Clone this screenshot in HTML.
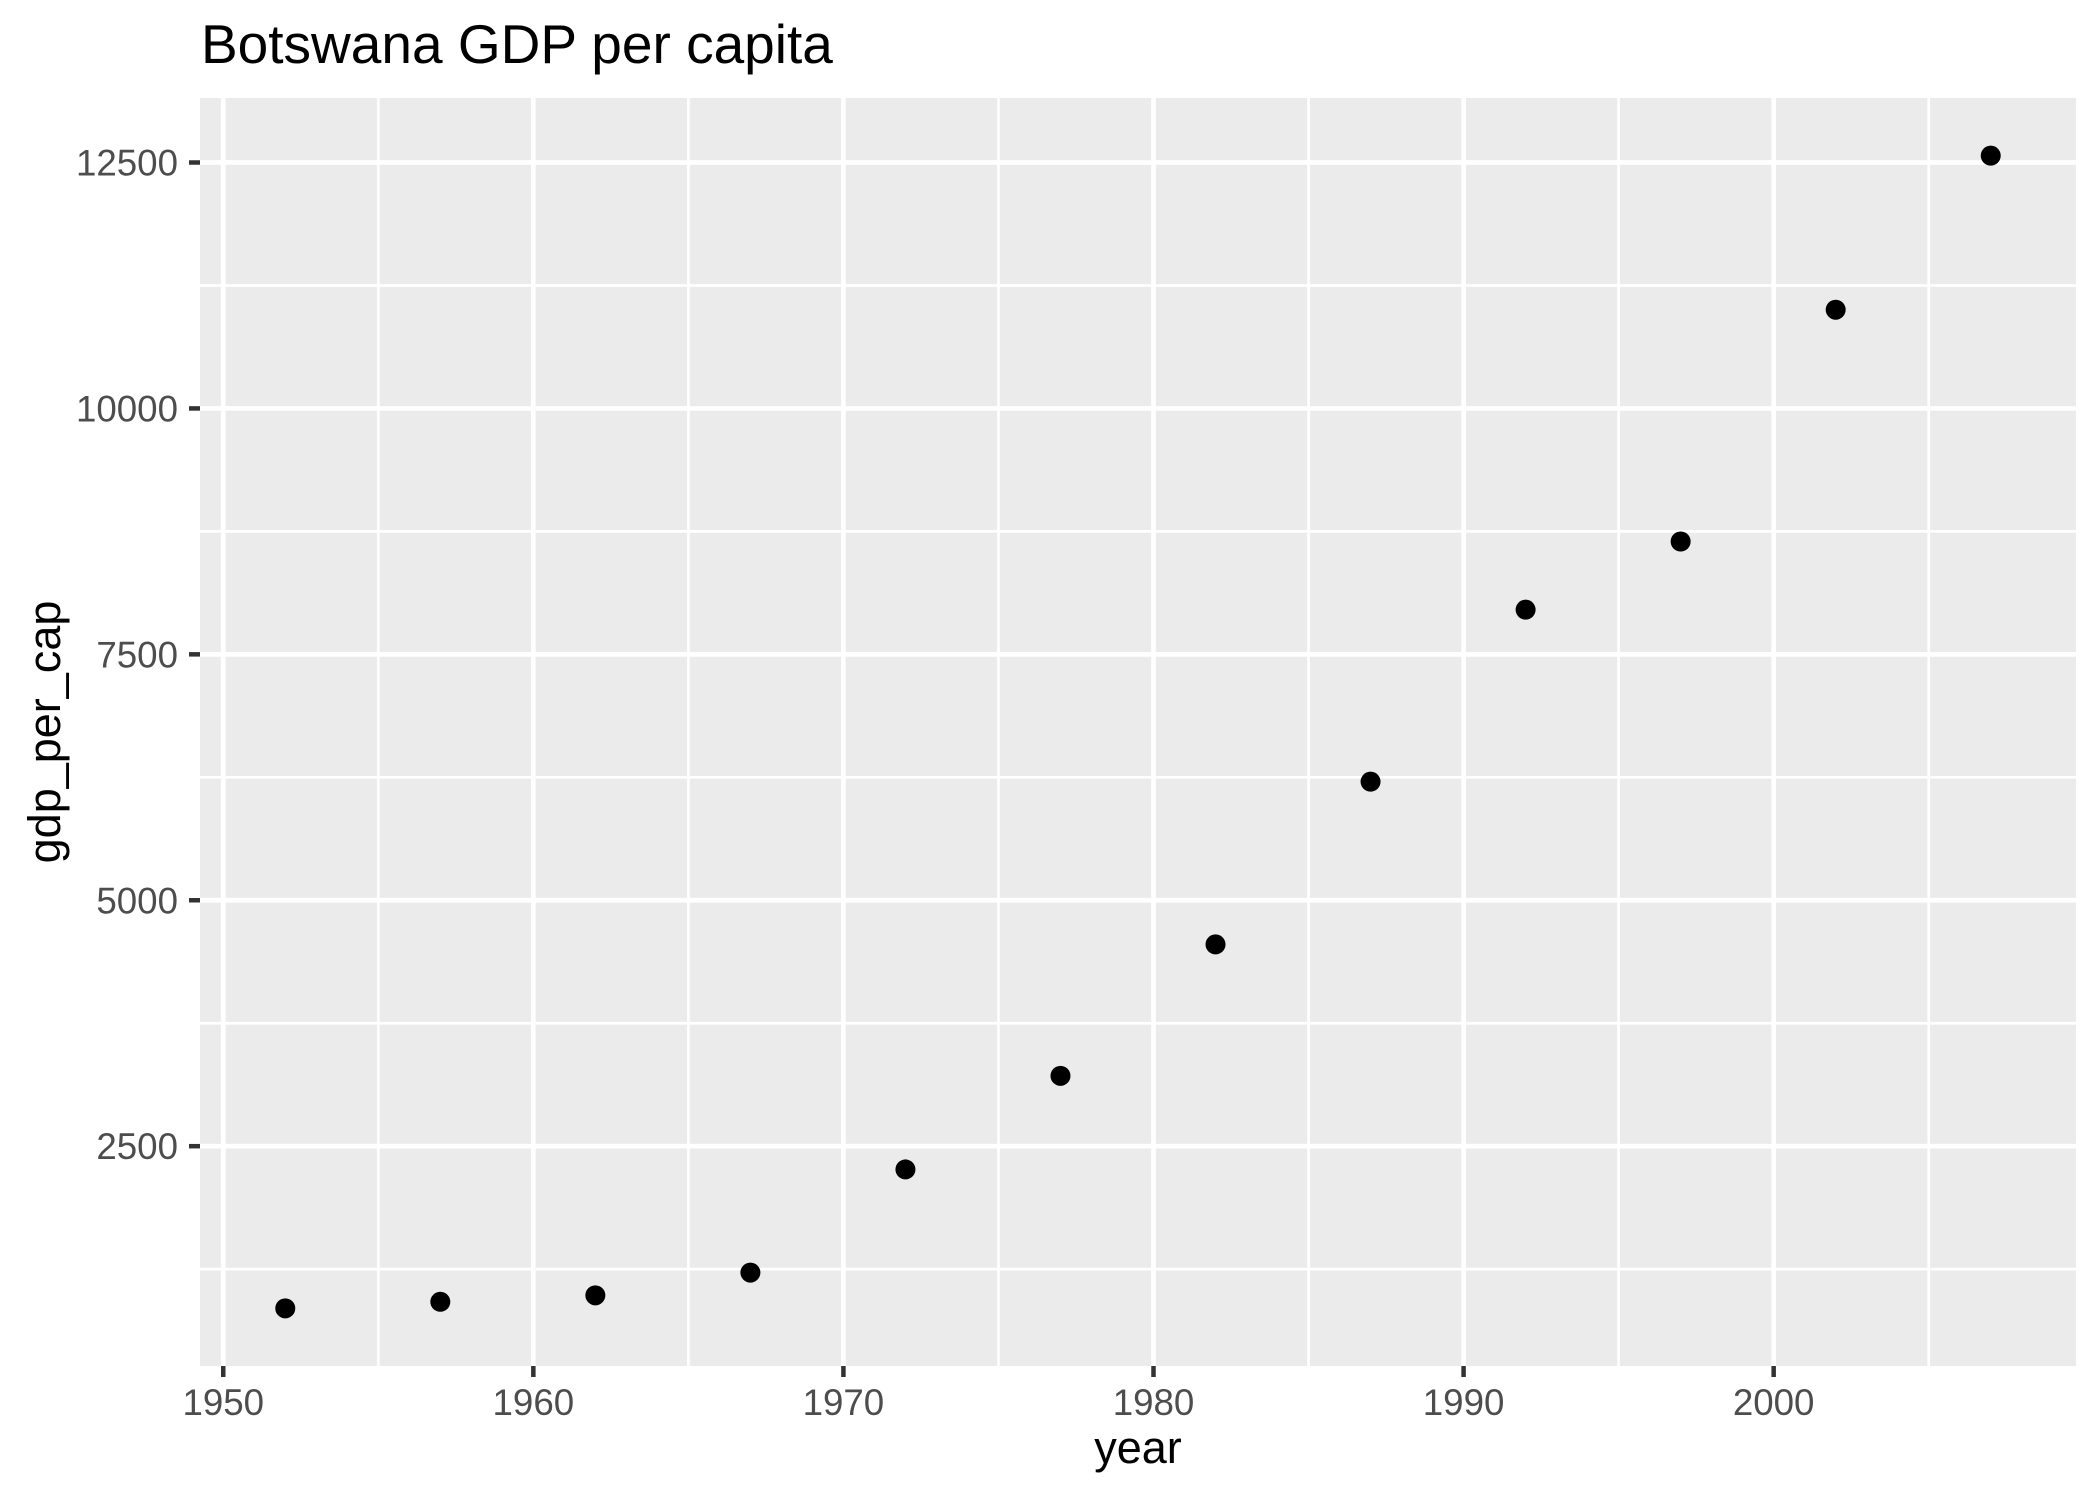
<!DOCTYPE html>
<html><head><meta charset="utf-8"><style>
html,body{margin:0;padding:0;background:#fff;}
svg{display:block;font-family:"Liberation Sans",Arial,sans-serif;}
</style></head><body>
<svg id="chart" width="2099" height="1499" viewBox="0 0 2099 1499">
<rect x="0" y="0" width="2099" height="1499" fill="#fff"/>
<text x="201" y="63" font-size="55" fill="#000">Botswana GDP per capita</text>
<rect x="200" y="98" width="1876" height="1268" fill="#EBEBEB"/>
<g id="grid"></g>
<g id="points"></g>
<g id="axes"></g>
<text x="1138" y="1463" font-size="45" text-anchor="middle" fill="#000">year</text>
<text transform="translate(60,732) rotate(-90)" font-size="45" text-anchor="middle" fill="#000">gdp_per_cap</text>
</svg>
<script>
const years = [1952,1957,1962,1967,1972,1977,1982,1987,1992,1997,2002,2007];
const gdpPerCap = [851.24,918.23,983.65,1214.71,2263.61,3214.86,4551.14,6205.88,7954.11,8647.14,11003.61,12569.85];
const xTicks = [1950,1960,1970,1980,1990,2000];
const xMinor = [1955,1965,1975,1985,1995,2005];
const yTicks = [2500,5000,7500,10000,12500];
const yMinor = [1250,3750,6250,8750,11250];

const NS = "http://www.w3.org/2000/svg";
const L = 200, R = 2076, T = 98, B = 1366;
const xmin0 = Math.min(...years), xmax0 = Math.max(...years);
const ymin0 = Math.min(...gdpPerCap), ymax0 = Math.max(...gdpPerCap);
const xpad = (xmax0 - xmin0) * 0.05, ypad = (ymax0 - ymin0) * 0.05;
const xLo = xmin0 - xpad, xHi = xmax0 + xpad, yLo = ymin0 - ypad, yHi = ymax0 + ypad;
function sx(v){ return L + (v - xLo) / (xHi - xLo) * (R - L); }
function sy(v){ return B - (v - yLo) / (yHi - yLo) * (B - T); }
function mk(tag, attrs, parent){
  const e = document.createElementNS(NS, tag);
  for (const k in attrs) e.setAttribute(k, attrs[k]);
  parent.appendChild(e);
  return e;
}
const grid = document.getElementById('grid');
const pts = document.getElementById('points');
const axes = document.getElementById('axes');

yMinor.forEach(v => {
  const y = sy(v);
  if (y < T || y > B) return;
  const el = mk('line', {x1:L, x2:R, y1:y, y2:y, stroke:'#fff', 'stroke-width':2.7}, grid);
  
  
});
xMinor.forEach(v => {
  const x = sx(v);
  const el = mk('line', {x1:x, x2:x, y1:T, y2:B, stroke:'#fff', 'stroke-width':2.7}, grid);
  
  
});
yTicks.forEach(v => {
  const y = sy(v);
  const el = mk('line', {x1:L, x2:R, y1:y, y2:y, stroke:'#fff', 'stroke-width':4.7}, grid);
  
  
  const t = mk('line', {x1:L-11, x2:L, y1:y, y2:y, stroke:'#333', 'stroke-width':4.5}, axes);
  
  
  const lb = mk('text', {x:L-22, y:y+13, 'font-size':36.7, 'text-anchor':'end', fill:'#4D4D4D'}, axes);
  lb.textContent = String(v);
  
  
});
xTicks.forEach(v => {
  const x = sx(v);
  const el = mk('line', {x1:x, x2:x, y1:T, y2:B, stroke:'#fff', 'stroke-width':4.7}, grid);
  
  
  const t = mk('line', {x1:x, x2:x, y1:B, y2:B+11, stroke:'#333', 'stroke-width':4.5}, axes);
  
  
  const lb = mk('text', {x:x, y:1415, 'font-size':36.7, 'text-anchor':'middle', fill:'#4D4D4D'}, axes);
  lb.textContent = String(v);
  
  
});
years.forEach((yr, i) => {
  const c = mk('circle', {cx:sx(yr), cy:sy(gdpPerCap[i]), r:10, fill:'#000'}, pts);
  
  
});
</script>
</body></html>
